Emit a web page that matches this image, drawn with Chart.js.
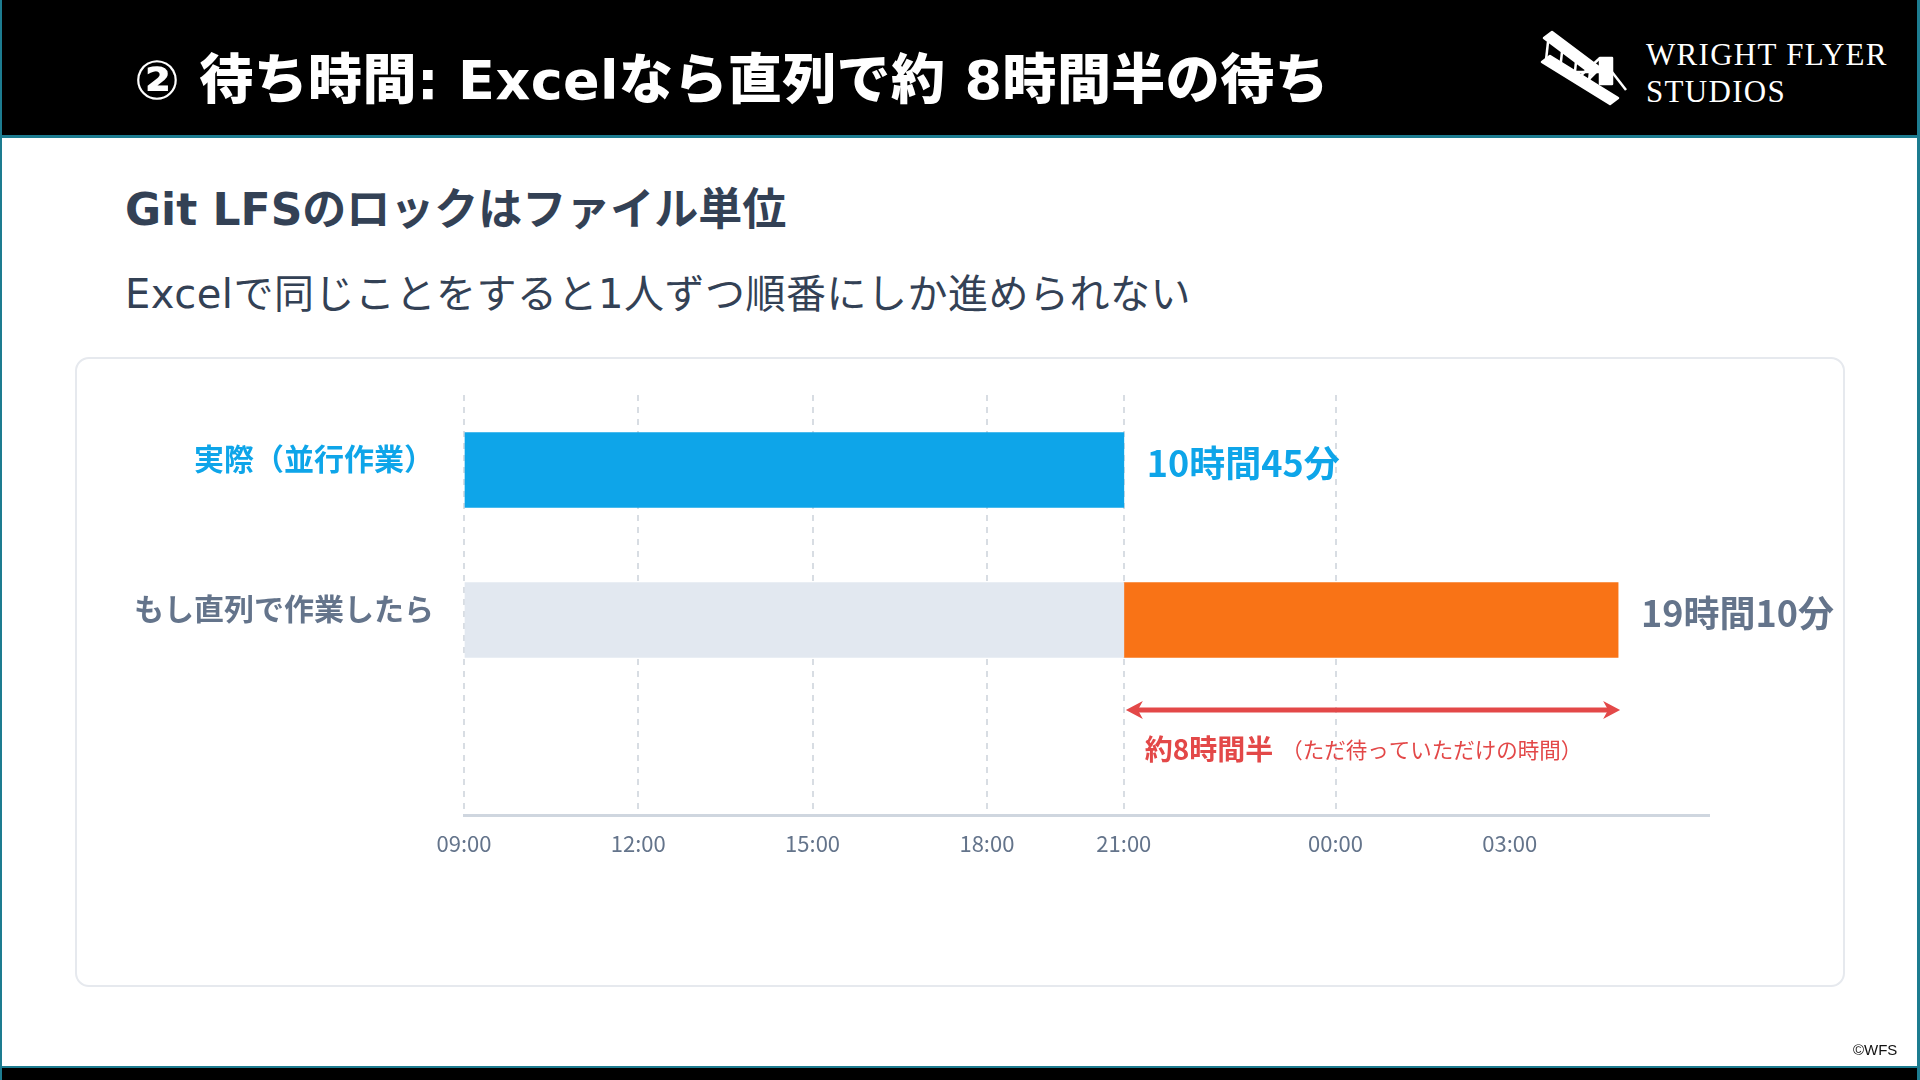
<!DOCTYPE html>
<html lang="ja">
<head>
<meta charset="utf-8">
<title>待ち時間</title>
<script src="https://cdn.jsdelivr.net/npm/chart.js@4.4.1/dist/chart.umd.min.js"></script>
<style>
  html, body { margin: 0; padding: 0; }
  body { width: 1920px; height: 1080px; position: relative; overflow: hidden; background: #ffffff;
         font-family: "Noto Sans CJK JP", "Noto Sans", sans-serif; }
  .frame { position: absolute; left: 0; top: 0; width: 1920px; height: 1080px; box-sizing: border-box;
           border-left: 2px solid #1d7c90; border-right: 3px solid #1d7c90; }
  .header { position: absolute; left: 0; top: 0; width: 1920px; height: 135px; background: #000;
            border-bottom: 3px solid #1d7c90; }
  .title { position: absolute; left: 134px; top: 43px; color: #fff; font-size: 54px; font-weight: 900;
           line-height: 76px; white-space: nowrap; letter-spacing: 0.4px;
           font-family: "DejaVu Sans", "Noto Sans CJK JP", sans-serif; }
  .logo-text { position: absolute; left: 1646px; color: #fff; font-family: "Liberation Serif", serif;
               font-size: 31px; letter-spacing: 1.3px; white-space: nowrap; line-height: 36px; }
  .footer { position: absolute; left: 0; top: 1066px; width: 1920px; height: 14px; background: #000;
            border-top: 2px solid #1d7c90; box-sizing: border-box; }
  .heading { position: absolute; left: 125px; top: 180px; color: #334155; font-size: 44px; font-weight: 700;
             line-height: 60px; white-space: nowrap; font-family: "DejaVu Sans", "Noto Sans CJK JP", sans-serif; }
  .sub { position: absolute; left: 125px; top: 266px; color: #334155; font-size: 40px; font-weight: 400;
         line-height: 56px; white-space: nowrap; letter-spacing: 0.5px;
         font-family: "DejaVu Sans", "Noto Sans CJK JP", sans-serif; }
  .card { position: absolute; left: 75px; top: 357px; width: 1770px; height: 630px; box-sizing: border-box;
          border: 2px solid #e6e9ee; border-radius: 14px; background: #fff; }
  .copy { position: absolute; left: 1853px; top: 1041px; font-family: "Liberation Sans", sans-serif;
          font-size: 15px; color: #111; }
  #wrap { position: absolute; left: 0; top: 0; width: 1920px; height: 1080px; }
</style>
</head>
<body>
<div class="header">
  <div class="title">② 待ち時間: Excelなら直列で約 8時間半の待ち</div>
  <svg style="position:absolute;left:1538px;top:28px" width="96" height="80" viewBox="0 0 96 80">
    <g fill="none" stroke="#fff" stroke-width="2.5" stroke-linejoin="round">
      <polygon points="6,10 14,4 62,40 54,46" fill="#fff"/>
      <polygon points="4,34 12,28 80,70 72,76" fill="#fff"/>
      <line x1="10" y1="14" x2="8" y2="32"/>
      <line x1="24" y1="24" x2="22" y2="42"/>
      <line x1="38" y1="34" x2="36" y2="52"/>
      <line x1="52" y1="44" x2="50" y2="62"/>
      <line x1="28" y1="44" x2="66" y2="44"/>
      <line x1="40" y1="50" x2="62" y2="30"/>
      <line x1="44" y1="58" x2="64" y2="38"/>
      <rect x="62" y="30" width="12" height="26" fill="#fff"/>
      <line x1="74" y1="44" x2="88" y2="62"/>
    </g>
  </svg>
  <div class="logo-text" style="top:37px">WRIGHT FLYER</div>
  <div class="logo-text" style="top:74px">STUDIOS</div>
</div>
<div class="heading">Git LFSのロックはファイル単位</div>
<div class="sub">Excelで同じことをすると1人ずつ順番にしか進められない</div>
<div class="card"></div>
<div id="wrap"><canvas id="c" width="1920" height="1080"></canvas></div>
<div class="copy">©WFS</div>
<div class="footer"></div>
<div class="frame"></div>
<script>
// ---- data (timeline position as % of axis width) ----
const categories = ['実際（並行作業）', 'もし直列で作業したら'];
const categoryColors = ['#0ea5e9', '#64748b'];
const rowPositions = [0.5, 1.5];
const arrowRow = 2.1;
const tickPositions = [0, 14, 28, 42, 53, 70, 84];
const tickLabels = ['09:00', '12:00', '15:00', '18:00', '21:00', '00:00', '03:00'];
const actualWork = [0, 53];     // 実際（並行作業）
const serialWait = [0, 53];     // 直列: 前半
const serialWork = [53, 92.7];  // 直列: 待ち時間
const valueLabels = ['10時間45分', '19時間10分'];
const waitLabel = '約8時間半';
const waitNote = '（ただ待っていただけの時間）';

const FONT = '"Noto Sans CJK JP", "Noto Sans", sans-serif';
const RED = '#e34848';

const overlay = {
  id: 'overlay',
  afterDatasetsDraw(chart) {
    const {ctx, scales: {x, y}} = chart;
    ctx.save();
    ctx.textBaseline = 'middle';
    ctx.textAlign = 'left';
    ctx.font = 'bold 36px ' + FONT;
    // value labels
    const ends = [actualWork[1], serialWork[1]];
    for (let i = 0; i < valueLabels.length; i++) {
      ctx.fillStyle = categoryColors[i];
      ctx.fillText(valueLabels[i], x.getPixelForValue(ends[i]) + 23, y.getPixelForValue(rowPositions[i]) - 7);
    }
    // double arrow
    const x1 = x.getPixelForValue(serialWork[0]) + 2;
    const x2 = x.getPixelForValue(serialWork[1]) + 2;
    const ay = y.getPixelForValue(arrowRow);
    ctx.strokeStyle = RED; ctx.fillStyle = RED; ctx.lineWidth = 5;
    ctx.beginPath(); ctx.moveTo(x1 + 8, ay); ctx.lineTo(x2 - 8, ay); ctx.stroke();
    ctx.beginPath(); ctx.moveTo(x1, ay); ctx.lineTo(x1 + 17, ay - 9); ctx.lineTo(x1 + 12, ay); ctx.lineTo(x1 + 17, ay + 9); ctx.closePath(); ctx.fill();
    ctx.beginPath(); ctx.moveTo(x2, ay); ctx.lineTo(x2 - 17, ay - 9); ctx.lineTo(x2 - 12, ay); ctx.lineTo(x2 - 17, ay + 9); ctx.closePath(); ctx.fill();
    // wait label
    ctx.font = 'bold 28px ' + FONT;
    const lx = x1 + 19, ly = ay + 39;
    ctx.fillText(waitLabel, lx, ly);
    const w = ctx.measureText(waitLabel).width;
    ctx.font = '21.5px ' + FONT;
    ctx.fillText(waitNote, lx + w + 8, ly + 1);
    ctx.restore();
  }
};

new Chart(document.getElementById('c'), {
  type: 'bar',
  data: {
    datasets: [
      { label: '実際（並行作業）', data: [{ y: rowPositions[0], x: actualWork }], backgroundColor: '#0ea5e9' },
      { label: '直列（前半）', data: [{ y: rowPositions[1], x: serialWait }], backgroundColor: '#e2e8f0' },
      { label: '直列（待ち）', data: [{ y: rowPositions[1], x: serialWork }], backgroundColor: '#f97316' }
    ]
  },
  options: {
    indexAxis: 'y',
    responsive: false,
    animation: false,
    devicePixelRatio: 1,
    datasets: { bar: { grouped: false, barThickness: 75, maxBarThickness: 75, borderSkipped: false, borderWidth: 0 } },
    layout: { padding: { left: 0, right: 211, top: 395, bottom: 205 } },
    plugins: { legend: { display: false }, tooltip: { enabled: false } },
    scales: {
      x: {
        type: 'linear', min: 0, max: 100, position: 'bottom', offset: false,
        afterFit(s) { s.height = 60; },
        afterBuildTicks(s) { s.ticks = tickPositions.map(v => ({ value: v })); },
        ticks: {
          autoSkip: false, maxRotation: 0, padding: 15, color: '#64748b',
          font: { family: FONT, size: 22 },
          callback: (v, i) => tickLabels[i]
        },
        grid: {
          drawTicks: false, lineWidth: 2, offset: false,
          color: (c) => (c.index < tickPositions.length - 1 ? '#d8dde3' : 'rgba(0,0,0,0)')
        },
        border: { display: true, color: '#cfd6df', width: 3, dash: [6, 6] }
      },
      y: {
        type: 'linear', min: 0, max: 2.8, reverse: true, offset: false, grace: 0,
        afterFit(s) { s.width = 464; },
        afterBuildTicks(s) { s.ticks = rowPositions.map(v => ({ value: v })); },
        ticks: {
          autoSkip: false, padding: 22, labelOffset: -11,
          color: (c) => categoryColors[c.index],
          font: { family: FONT, size: 30, weight: 'bold' },
          callback: (v, i) => categories[i]
        },
        grid: { display: false, offset: false },
        border: { display: false }
      }
    }
  },
  plugins: [overlay]
});
</script>
</body>
</html>
